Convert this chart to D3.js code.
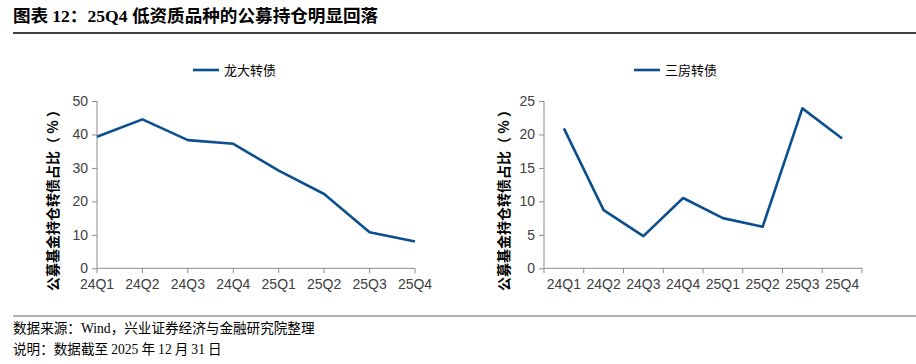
<!DOCTYPE html>
<html>
<head>
<meta charset="utf-8">
<script src="https://cdn.jsdelivr.net/npm/d3@7"></script>
<style>
  body { margin: 0; background: #fff; }
  svg text { font-family: "Liberation Sans", Arial, "Noto Sans CJK SC", sans-serif; }
</style>
</head>
<body>
<div id="chart"></div>
<script>
// quarters shared by both panels
const quarters = ["24Q1", "24Q2", "24Q3", "24Q4", "25Q1", "25Q2", "25Q3", "25Q4"];
// 龙大转债 public fund holding share (%)
const longdaValues = [39.3, 44.5, 38.3, 37.2, 29.2, 22.2, 10.8, 8.0];
// 三房转债 public fund holding share (%)
const sanfangValues = [20.9, 8.7, 4.8, 10.5, 7.5, 6.2, 23.9, 19.4];
const leftTicks = [0, 10, 20, 30, 40, 50];
const rightTicks = [0, 5, 10, 15, 20, 25];

const W = 916, H = 364;
const lineColor = "#0c4f8e";
const axisColor = "#8c8c8c";
const labelColor = "#404040";

const svg = d3.select("#chart").append("svg")
    .attr("width", W).attr("height", H);

// title
const title = svg.append("text")
    .attr("x", 13).attr("y", 22)
    .attr("font-size", 17.6).attr("font-weight", "bold").attr("fill", "#000");
title.append("tspan").text("图表 ").style("font-family", "'Noto Sans CJK SC', sans-serif");
title.append("tspan").text("12").style("font-family", "'Liberation Serif', serif");
title.append("tspan").text("：").style("font-family", "'Noto Sans CJK SC', sans-serif");
title.append("tspan").text("25Q4 ").style("font-family", "'Liberation Serif', serif");
title.append("tspan").text("低资质品种的公募持仓明显回落").style("font-family", "'Noto Sans CJK SC', sans-serif");

svg.append("line").attr("x1", 13).attr("x2", W).attr("y1", 33).attr("y2", 33)
    .attr("stroke", "#000").attr("stroke-width", 1.5);

// footer
svg.append("line").attr("x1", 13).attr("x2", W).attr("y1", 316).attr("y2", 316)
    .attr("stroke", "#666").attr("stroke-width", 1.2);

function footerLine(y, parts) {
  const t = svg.append("text").attr("x", 13).attr("y", y).attr("font-size", 13.6).attr("fill", "#000");
  parts.forEach(p => {
    t.append("tspan").text(p[0])
      .style("font-family", p[1] ? "'Liberation Serif', serif" : "'Noto Sans CJK SC', sans-serif");
  });
}
footerLine(333, [["数据来源：", false], ["Wind", true], ["，兴业证券经济与金融研究院整理", false]]);
footerLine(354, [["说明：数据截至 ", false], ["2025", true], [" 年 ", false], ["12", true], [" 月 ", false], ["31", true], [" 日", false]]);

function panel(opts) {
  const g = svg.append("g");
  const y = d3.scaleLinear().domain([0, opts.max]).range([268.3, 101]);
  let x, tickXs;
  if (opts.band) {
    x = d3.scaleBand().domain(quarters).range([opts.x0, opts.x1]);
    tickXs = quarters.map(q => x(q)).concat([opts.x1]);
  } else {
    x = d3.scalePoint().domain(quarters).range([opts.x0, opts.x1]);
    tickXs = quarters.map(q => x(q));
  }
  const cx = q => opts.band ? x(q) + x.bandwidth() / 2 : x(q);

  // y axis
  const yAxis = g.append("g").attr("transform", `translate(${opts.x0},0)`)
      .call(d3.axisLeft(y).tickValues(opts.ticks).tickSize(5).tickPadding(4));
  yAxis.select(".domain").attr("stroke", axisColor).attr("d", `M0,${y(opts.max)}V${y(0)}`);
  yAxis.selectAll(".tick line").attr("stroke", axisColor);
  yAxis.selectAll(".tick text").attr("font-size", 14).attr("fill", labelColor)
      .style("font-family", "'Liberation Sans', Arial, sans-serif");

  // x axis
  const base = y(0);
  g.append("line").attr("x1", opts.x0).attr("x2", opts.x1).attr("y1", base).attr("y2", base)
      .attr("stroke", axisColor);
  g.selectAll(".xt").data(tickXs).join("line")
      .attr("x1", d => d).attr("x2", d => d).attr("y1", base).attr("y2", base + 5)
      .attr("stroke", axisColor);
  g.selectAll(".xl").data(quarters).join("text")
      .attr("x", d => cx(d)).attr("y", base + 21)
      .attr("text-anchor", "middle").attr("font-size", 14).attr("fill", labelColor)
      .style("font-family", "'Liberation Sans', Arial, sans-serif")
      .text(d => d);

  // y title
  g.append("text")
      .attr("transform", `translate(${opts.titleX},197) rotate(-90)`)
      .attr("text-anchor", "middle").attr("font-size", 14).attr("font-weight", "bold").attr("fill", "#000")
      .style("font-family", "'Noto Sans CJK SC', sans-serif")
      .text("公募基金持仓转债占比（ % ）");

  // line
  const line = d3.line().x((d, i) => cx(quarters[i])).y(d => y(d));
  g.append("path").datum(opts.values).attr("d", line)
      .attr("fill", "none").attr("stroke", lineColor).attr("stroke-width", 2.6)
      .attr("stroke-linejoin", "round");

  // legend
  g.append("line").attr("x1", opts.legX).attr("x2", opts.legX + 26).attr("y1", 70).attr("y2", 70)
      .attr("stroke", lineColor).attr("stroke-width", 2.6);
  g.append("text").attr("x", opts.legX + 31).attr("y", 75)
      .attr("font-size", 13).attr("fill", "#000")
      .style("font-family", "'Noto Sans CJK SC', sans-serif")
      .text(opts.name);
}

panel({ values: longdaValues, name: "龙大转债", max: 50, ticks: leftTicks,
        x0: 97, x1: 415, band: false, titleX: 58, legX: 193 });
panel({ values: sanfangValues, name: "三房转债", max: 25, ticks: rightTicks,
        x0: 544, x1: 862, band: true, titleX: 509, legX: 634 });
</script>
</body>
</html>
